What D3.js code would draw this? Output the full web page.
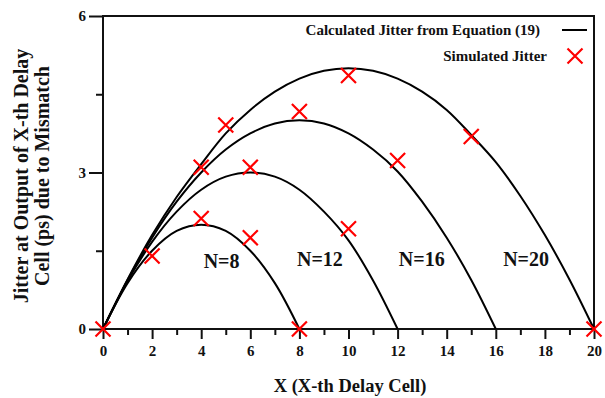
<!DOCTYPE html>
<html>
<head>
<meta charset="utf-8">
<script src="https://cdn.jsdelivr.net/npm/d3@7"></script>
<style>
  body { margin: 0; background: #fff; }
  svg text { font-family: "Liberation Serif", "Times New Roman", serif; font-weight: bold; fill: #111; }
</style>
</head>
<body>
<div id="chart"></div>
<script>
// values, at integer X
const curveN8  = [0, 0.88, 1.5, 1.88, 2, 1.88, 1.5, 0.88, 0];
const curveN12 = [0, 0.92, 1.67, 2.25, 2.67, 2.92, 3, 2.92, 2.67, 2.25, 1.7, 0.93, 0];
const curveN16 = [0, 0.94, 1.75, 2.44, 3, 3.44, 3.75, 3.94, 4, 3.94, 3.75, 3.44, 3.02, 2.44, 1.75, 0.94, 0];
const curveN20 = [0, 0.95, 1.8, 2.53, 3.16, 3.75, 4.2, 4.55, 4.8, 4.95, 5, 4.95, 4.8, 4.55, 4.2, 3.72, 3.2, 2.55, 1.8, 0.95, 0];
const curves = [curveN8, curveN12, curveN16, curveN20];

const simX = [0, 2, 4, 4, 5, 6, 6, 8, 8, 10, 10, 12, 15, 20];
const simY = [0, 1.40, 2.12, 3.10, 3.91, 1.75, 3.10, 4.17, 0, 1.92, 4.86, 3.23, 3.69, 0];

const nLabels = ["N=8", "N=12", "N=16", "N=20"];
const nLabelX = [4.1, 7.9, 12.05, 16.3];
const nLabelY = [1.17, 1.21, 1.21, 1.21];

const xMajor = [0, 2, 4, 6, 8, 10, 12, 14, 16, 18, 20];
const xMinor = [1, 3, 5, 7, 9, 11, 13, 15, 17, 19];
const yMajor = [0, 3, 6];
const yMinor = [1.5, 4.5];

const width = 605, height = 398;

const svg = d3.select("#chart").append("svg")
  .attr("width", width)
  .attr("height", height);

const x = d3.scaleLinear().domain([0, 20]).range([103, 594]);
const y = d3.scaleLinear().domain([0, 6]).range([329, 16]);

// minor ticks
svg.append("g")
  .attr("transform", `translate(0,${y(0)})`)
  .call(d3.axisBottom(x).tickValues(xMinor).tickSize(6).tickFormat(""))
  .call(g => g.select(".domain").remove());
svg.append("g")
  .attr("transform", `translate(${x(0)},0)`)
  .call(d3.axisLeft(y).tickValues(yMinor).tickSize(7).tickFormat(""))
  .call(g => g.select(".domain").remove());

// major ticks + labels
const xAxis = svg.append("g")
  .attr("transform", `translate(0,${y(0)})`)
  .call(d3.axisBottom(x).tickValues(xMajor).tickSize(10).tickPadding(6).tickFormat(d3.format("d")));
xAxis.select(".domain").remove();
xAxis.selectAll("text").style("font-size", "15px");

const yAxis = svg.append("g")
  .attr("transform", `translate(${x(0)},0)`)
  .call(d3.axisLeft(y).tickValues(yMajor).tickSize(14).tickPadding(3).tickFormat(d3.format("d")));
yAxis.select(".domain").remove();
yAxis.selectAll("text").style("font-size", "15px");

svg.selectAll(".tick line").attr("stroke", "#111").attr("stroke-width", 2);

// frame
svg.append("rect")
  .attr("x", x(0)).attr("y", y(6))
  .attr("width", x(20) - x(0)).attr("height", y(0) - y(6))
  .attr("fill", "none")
  .attr("stroke", "#111")
  .attr("stroke-width", 2);

// calculated curves
const line = d3.line()
  .x((d, i) => x(i))
  .y(d => y(d))
  .curve(d3.curveCatmullRom.alpha(0.5));

svg.selectAll(".calc")
  .data(curves)
  .join("path")
  .attr("class", "calc")
  .attr("d", line)
  .attr("fill", "none")
  .attr("stroke", "#000")
  .attr("stroke-width", 2);

// N labels
svg.selectAll(".nlab")
  .data(nLabels)
  .join("text")
  .attr("class", "nlab")
  .attr("x", (d, i) => x(nLabelX[i]))
  .attr("y", (d, i) => y(nLabelY[i]))
  .style("font-size", "20px")
  .text(d => d);

// simulated markers
const cross = (cx, cy, r) => `M${cx - r},${cy - r}L${cx + r},${cy + r}M${cx - r},${cy + r}L${cx + r},${cy - r}`;

svg.selectAll(".sim")
  .data(simX)
  .join("path")
  .attr("class", "sim")
  .attr("d", (d, i) => cross(x(d), y(simY[i]), 7.5))
  .attr("stroke", "#ff0000")
  .attr("stroke-width", 2.2)
  .attr("fill", "none");

// legend
const legend = svg.append("g");
legend.append("text")
  .attr("x", 540).attr("y", 35)
  .attr("text-anchor", "end")
  .style("font-size", "15px")
  .text("Calculated Jitter from Equation (19)");
legend.append("line")
  .attr("x1", 562).attr("x2", 587)
  .attr("y1", 30).attr("y2", 30)
  .attr("stroke", "#000").attr("stroke-width", 2);
legend.append("text")
  .attr("x", 547).attr("y", 61)
  .attr("text-anchor", "end")
  .style("font-size", "15px")
  .text("Simulated Jitter");
legend.append("path")
  .attr("d", cross(575, 56, 7.5))
  .attr("stroke", "#ff0000").attr("stroke-width", 2.2);

// axis titles
svg.append("text")
  .attr("x", 350).attr("y", 392)
  .attr("text-anchor", "middle")
  .style("font-size", "18.5px")
  .text("X (X-th Delay Cell)");

const yTitle = svg.append("text")
  .attr("transform", "translate(28,176) rotate(-90)")
  .attr("text-anchor", "middle")
  .style("font-size", "20px");
yTitle.append("tspan").attr("x", 0).attr("y", 0).text("Jitter at Output of X-th Delay");
yTitle.append("tspan").attr("x", 0).attr("y", 21).text("Cell (ps) due to Mismatch");
</script>
</body>
</html>
